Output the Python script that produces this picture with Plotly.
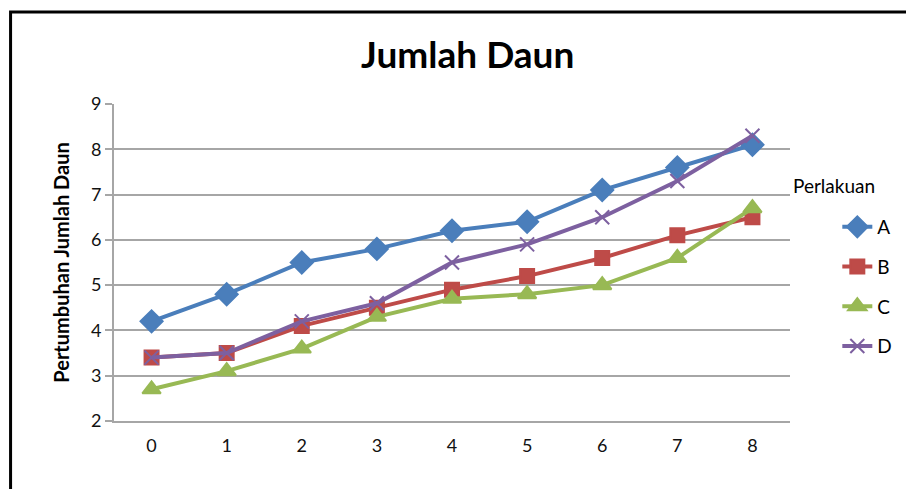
import plotly.graph_objects as go

hari = [0, 1, 2, 3, 4, 5, 6, 7, 8]
perlakuan_a = [4.2, 4.8, 5.5, 5.8, 6.2, 6.4, 7.1, 7.6, 8.1]
perlakuan_b = [3.4, 3.5, 4.1, 4.5, 4.9, 5.2, 5.6, 6.1, 6.5]
perlakuan_c = [2.7, 3.1, 3.6, 4.3, 4.7, 4.8, 5.0, 5.6, 6.7]
perlakuan_d = [3.4, 3.5, 4.2, 4.6, 5.5, 5.9, 6.5, 7.3, 8.3]
y_ticks = [2, 3, 4, 5, 6, 7, 8, 9]

FONT = 'Lato, "Open Sans", sans-serif'

series = [
    ('A', perlakuan_a, '#4A7EBB', 'diamond', 17),
    ('B', perlakuan_b, '#BE4B48', 'square', 14),
    ('C', perlakuan_c, '#98B954', 'triangle-up', 16),
    ('D', perlakuan_d, '#7D60A0', 'x-thin', 14),
]

fig = go.Figure()
for name, vals, color, symbol, size in series:
    fig.add_trace(go.Scatter(
        x=hari,
        y=vals,
        name=name,
        legendgroup=name,
        mode='lines+markers',
        line=dict(color=color, width=4),
        marker=dict(symbol=symbol, size=size, color=color,
                    line=dict(color=color, width=2))
    ))

fig.update_layout(
    width=914,
    height=489,
    margin=dict(l=106, r=132, t=96, b=76),
    paper_bgcolor='white',
    plot_bgcolor='white',
    font=dict(family=FONT, size=18, color='black'),
    title=dict(text='<b>Jumlah Daun</b>', x=0.503, xanchor='center',
               y=0.903, yanchor='middle',
               font=dict(family=FONT, size=37, color='black')),
    showlegend=True,
    legend=dict(x=1.07, xanchor='left', y=0.672, yanchor='top',
                tracegroupgap=12, font=dict(size=19, color='black'),
                bgcolor='rgba(0,0,0,0)'),
    xaxis=dict(range=[-0.5, 8.5], tickvals=hari, showgrid=False,
               showline=True, linecolor='#A6A6A6', linewidth=2,
               ticks='', zeroline=False, ticklabelstandoff=7,
               tickfont=dict(size=18, color='#111111')),
    yaxis=dict(range=[2, 9], tickvals=y_ticks, showgrid=True,
               gridcolor='#A6A6A6', gridwidth=2,
               showline=True, linecolor='#A6A6A6', linewidth=2,
               ticks='outside', ticklen=7, tickcolor='#A6A6A6', tickwidth=2,
               zeroline=False, tickfont=dict(size=18, color='#111111'),
               title=dict(text='<b>Pertumbuhan Jumlah Daun</b>', standoff=16,
                          font=dict(size=20, color='black'))),
)

# legend heading
fig.add_annotation(text='Perlakuan', xref='paper', yref='paper',
                   x=1.001, xanchor='left', y=0.743, yanchor='middle',
                   showarrow=False, font=dict(size=19, color='black'))

# outer chart frame (only left and top edges visible)
fig.add_shape(type='rect', xref='paper', yref='paper',
              x0=-0.153, y0=-1, x1=2, y1=1.29,
              line=dict(color='black', width=3))

fig.write_html("out.html")
